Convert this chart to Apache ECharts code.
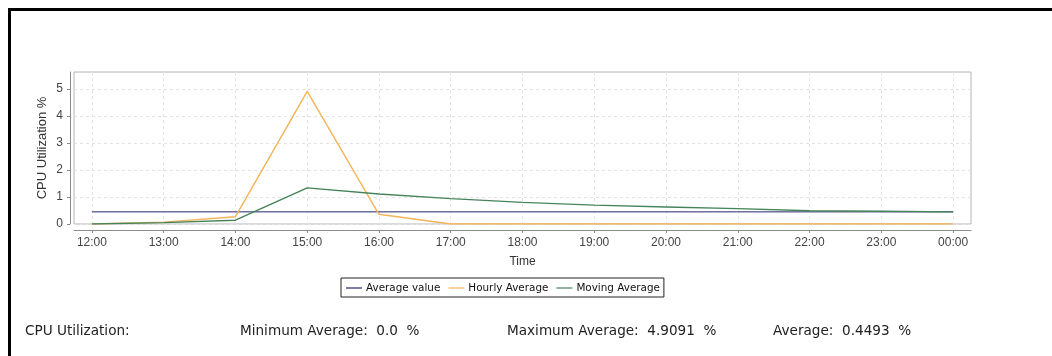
<!DOCTYPE html>
<html>
<head>
<meta charset="utf-8">
<script src="https://cdn.jsdelivr.net/npm/echarts@6/dist/echarts.min.js"></script>
<style>
html,body{margin:0;padding:0;background:#fff;}
#chart{width:1052px;height:356px;}
</style>
</head>
<body>
<div id="chart"></div>
<script>
// ---- data ----
const categories = ['12:00','13:00','14:00','15:00','16:00','17:00','18:00','19:00','20:00','21:00','22:00','23:00','00:00'];
const hourlyAverage = [0, 0.07, 0.27, 4.9091, 0.36, 0, 0, 0, 0, 0, 0, 0, 0];
const movingAverage = [0, 0.05, 0.14, 1.34, 1.11, 0.94, 0.80, 0.70, 0.63, 0.57, 0.49, 0.47, 0.45];
const seriesNames = ['Average value', 'Hourly Average', 'Moving Average'];
const statLabels = ['CPU Utilization:', 'Minimum Average:', 'Maximum Average:', 'Average:'];
const minimumAverage = '0.0';
const maximumAverage = '4.9091';
const overallAverage = '0.4493';
const yTicks = [0, 1, 2, 3, 4, 5];

const xIdx = categories.map((c, i) => i);
const averageLine = categories.map(() => parseFloat(overallAverage));
const toPairs = arr => arr.map((v, i) => [i, v]);

const chart = echarts.init(document.getElementById('chart'), null, {renderer: 'canvas'});
const statFont = '13.6px "DejaVu Sans", sans-serif';
chart.setOption({
  animation: false,
  backgroundColor: '#ffffff',
  grid: {
    left: 74, top: 72, right: 81, bottom: 132,
    show: true, borderColor: '#b4b4b4', borderWidth: 1, backgroundColor: '#ffffff'
  },
  legend: {
    left: 341, top: 278,
    padding: [5, 4, 4, 5],
    itemGap: 8,
    icon: 'rect',
    itemWidth: 16, itemHeight: 1.2,
    borderColor: '#222', borderWidth: 1,
    textStyle: {fontFamily: '"DejaVu Sans", sans-serif', fontSize: 10.4, color: '#111', padding: [0, 0, 0, -1]},
    data: seriesNames
  },
  xAxis: {
    type: 'value', min: -0.25, max: 12.25,
    offset: 6,
    name: 'Time', nameLocation: 'middle', nameGap: 26, nameMoveOverlap: false,
    nameTextStyle: {fontFamily: '"Liberation Sans", Arial, sans-serif', fontSize: 12, color: '#333'},
    axisLine: {show: true, onZero: false, lineStyle: {color: '#8c8c8c', width: 1}},
    axisTick: {show: true, length: 3, customValues: xIdx, lineStyle: {color: '#8c8c8c'}},
    axisLabel: {customValues: xIdx, margin: 7, fontFamily: '"Liberation Sans", Arial, sans-serif', fontSize: 12, color: '#444',
      formatter: v => categories[Math.round(v)] || ''},
    splitLine: {show: true, lineStyle: {color: '#e3e3e3', type: [3, 3], width: 1}}
  },
  yAxis: {
    type: 'value', min: 0, max: 5.63,
    offset: 4,
    name: 'CPU Utilization %', nameLocation: 'middle', nameGap: 21, nameMoveOverlap: false,
    nameTextStyle: {fontFamily: '"Liberation Sans", Arial, sans-serif', fontSize: 13, color: '#333'},
    axisLine: {show: true, onZero: false, lineStyle: {color: '#8c8c8c', width: 1}},
    axisTick: {show: true, length: 3, customValues: yTicks, lineStyle: {color: '#8c8c8c'}},
    axisLabel: {customValues: yTicks, margin: 7, fontFamily: '"Liberation Sans", Arial, sans-serif', fontSize: 12, color: '#444'},
    splitLine: {show: true, lineStyle: {color: '#e3e3e3', type: [3, 3], width: 1}}
  },
  series: [
    {name: seriesNames[0], type: 'line', symbol: 'none', data: toPairs(averageLine),
      lineStyle: {color: '#24246e', width: 1}, itemStyle: {color: '#24246e'}},
    {name: seriesNames[1], type: 'line', symbol: 'none', data: toPairs(hourlyAverage),
      lineStyle: {color: '#f5b35a', width: 1.4}, itemStyle: {color: '#f5b35a'}},
    {name: seriesNames[2], type: 'line', symbol: 'none', data: toPairs(movingAverage),
      lineStyle: {color: '#45845a', width: 1.4}, itemStyle: {color: '#45845a'}}
  ],
  graphic: [
    {type: 'polyline', silent: true, shape: {points: [[9.5, 356], [9.5, 9.5], [1052, 9.5]]},
      style: {stroke: '#000', lineWidth: 3, fill: null}},
    {type: 'text', left: 25, top: 324, style: {text: statLabels[0], font: statFont, fill: '#222'}},
    {type: 'text', left: 240, top: 324, style: {text: statLabels[1] + '  ' + minimumAverage + '  %', font: statFont, fill: '#222'}},
    {type: 'text', left: 507, top: 324, style: {text: statLabels[2] + '  ' + maximumAverage + '  %', font: statFont, fill: '#222'}},
    {type: 'text', left: 773, top: 324, style: {text: statLabels[3] + '  ' + overallAverage + '  %', font: statFont, fill: '#222'}}
  ]
});
</script>
</body>
</html>
